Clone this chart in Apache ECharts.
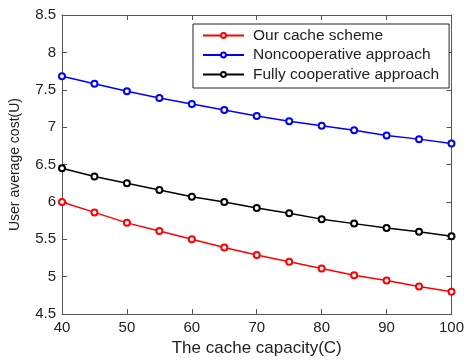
<!DOCTYPE html>
<html>
<head>
<meta charset="utf-8">
<script src="https://cdn.jsdelivr.net/npm/echarts@6/dist/echarts.min.js"></script>
<style>
  html, body { margin: 0; padding: 0; background: #fff; }
  #chart { width: 467px; height: 362px; }
</style>
</head>
<body>
<div id="chart"></div>
<script>
// Cache capacity values on the x axis
const capacity = [40, 45, 50, 55, 60, 65, 70, 75, 80, 85, 90, 95, 100];

// User average cost per scheme
const ourScheme = [6.00, 5.86, 5.72, 5.61, 5.50, 5.39, 5.29, 5.20, 5.11, 5.02, 4.95, 4.87, 4.80];
const noncooperative = [7.68, 7.58, 7.48, 7.39, 7.31, 7.23, 7.15, 7.08, 7.02, 6.96, 6.89, 6.84, 6.78];
const fullyCooperative = [6.45, 6.34, 6.25, 6.16, 6.07, 6.00, 5.92, 5.85, 5.77, 5.71, 5.65, 5.60, 5.54];

const seriesNames = ['Our cache scheme', 'Noncooperative approach', 'Fully cooperative approach'];
const seriesColors = ['#ff0000', '#0000ff', '#000000'];
const seriesValues = [ourScheme, noncooperative, fullyCooperative];

const textColor = '#222';
const axisColor = '#555';
const fontFamily = 'Liberation Sans, Arial, sans-serif';

const chart = echarts.init(document.getElementById('chart'));

const boxAxis = {
  axisLine: { show: true, lineStyle: { color: axisColor, width: 1 } },
  axisTick: { show: true, inside: true, length: 5, lineStyle: { color: axisColor } },
  splitLine: { show: false }
};

chart.setOption({
  animation: false,
  backgroundColor: '#fff',
  grid: { left: 62, right: 14, top: 15, bottom: 38 },
  legend: {
    orient: 'vertical',
    left: 193,
    top: 24,
    padding: [3, 10, 5, 9],
    itemGap: 2.5,
    itemWidth: 41,
    itemHeight: 6,
    borderColor: '#222',
    borderWidth: 1,
    backgroundColor: '#fff',
    textStyle: { fontSize: 15.5, lineHeight: 17, color: textColor, fontFamily: fontFamily, padding: [0, 0, 0, 4] },
    data: seriesNames
  },
  xAxis: [
    Object.assign({
      type: 'value',
      min: 40, max: 100, interval: 10,
      position: 'bottom',
      name: 'The cache capacity(C)',
      nameLocation: 'middle',
      nameGap: 22,
      nameTextStyle: { fontSize: 17, color: textColor, fontFamily: fontFamily },
      axisLabel: { fontSize: 15, color: textColor, fontFamily: fontFamily, margin: 6 }
    }, boxAxis),
    Object.assign({
      type: 'value',
      min: 40, max: 100, interval: 10,
      position: 'top',
      axisLabel: { show: false }
    }, boxAxis)
  ],
  yAxis: [
    Object.assign({
      type: 'value',
      min: 4.5, max: 8.5, interval: 0.5,
      position: 'left',
      name: 'User average cost(U)',
      nameLocation: 'middle',
      nameGap: 40,
      nameTextStyle: { fontSize: 14, color: textColor, fontFamily: fontFamily },
      axisLabel: { fontSize: 15, color: textColor, fontFamily: fontFamily, margin: 6 }
    }, boxAxis),
    Object.assign({
      type: 'value',
      min: 4.5, max: 8.5, interval: 0.5,
      position: 'right',
      axisLabel: { show: false }
    }, boxAxis)
  ],
  series: seriesNames.map((name, i) => ({
    name: name,
    type: 'line',
    xAxisIndex: 0,
    yAxisIndex: 0,
    data: capacity.map((c, j) => [c, seriesValues[i][j]]),
    symbol: 'emptyCircle',
    symbolSize: 6,
    color: seriesColors[i],
    lineStyle: { color: seriesColors[i], width: 1.5 },
    itemStyle: { color: seriesColors[i], borderColor: seriesColors[i], borderWidth: 1.5 }
  }))
});
</script>
</body>
</html>
